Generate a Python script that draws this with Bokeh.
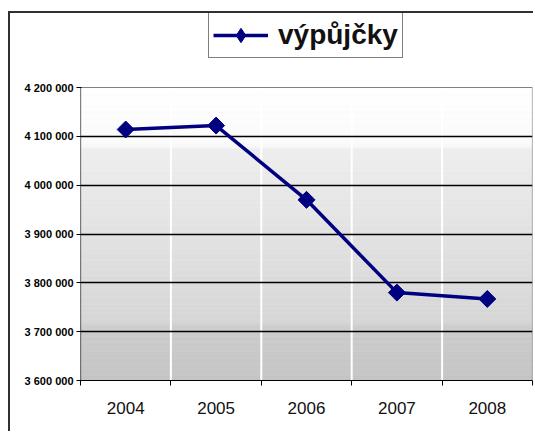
from bokeh.plotting import figure
from bokeh.models import FixedTicker, Legend, LegendItem, ColumnDataSource
from bokeh.embed import file_html
from bokeh.resources import INLINE
import numpy as np

# ---- data ----
years = ["2004", "2005", "2006", "2007", "2008"]
loans = [4114000, 4122000, 3970000, 3780000, 3767000]
series_name = "výpůjčky"
y_ticks = [3600000, 3700000, 3800000, 3900000, 4000000, 4100000, 4200000]
y_tick_labels = ["3 600 000", "3 700 000", "3 800 000", "3 900 000",
                 "4 000 000", "4 100 000", "4 200 000"]

n = len(years)
y_lo, y_hi = y_ticks[0], y_ticks[-1]
x_pos = [i + 0.5 for i in range(n)]

# frame spans from the top of the chart (legend area) down to the x axis
FRAME_TOP_PX, PLOT_TOP_PX, AXIS_PX = 13, 87, 380
y_end = y_hi + (PLOT_TOP_PX - FRAME_TOP_PX) * (y_hi - y_lo) / (AXIS_PX - PLOT_TOP_PX)

p = figure(width=525, height=420, output_backend="svg", toolbar_location=None,
           x_range=(0, n), y_range=(y_lo, y_end),
           min_border_left=70, min_border_right=3, min_border_top=0,
           min_border_bottom=53)
p.margin = (11, 0, 0, 8)
p.styles = {"border-left": "2px solid #303030", "border-top": "2px solid #303030"}
p.background_fill_color = "white"
p.border_fill_color = "white"
p.outline_line_color = None

# background gradient of the plot area (decorative)
stops_v = [3600000, 3710000, 3720000, 4075000, 4080000, 4200000]
stops_c = [196, 204, 214, 238, 250, 255]
edges = np.linspace(y_lo, y_hi, 121)
bots, tops, cols = [], [], []
for a, b in zip(edges[:-1], edges[1:]):
    g = int(round(np.interp((a + b) / 2, stops_v, stops_c)))
    bots.append(a); tops.append(b); cols.append("#%02x%02x%02x" % (g, g, g))
p.quad(left=0, right=n, bottom=bots, top=tops, fill_color=cols,
       line_color=cols, line_width=0.6, level="image")

# vertical white separators between categories
bounds = list(range(1, n))
p.segment(x0=bounds, x1=bounds, y0=y_lo, y1=y_hi, line_color="white",
          line_width=2, level="underlay")

# plot-area outline (top and right in grey)
p.line(x=[0, n, n], y=[y_hi, y_hi, y_lo], line_color="#808080", line_width=1.2,
       level="underlay")

# grids
p.ygrid.ticker = FixedTicker(ticks=y_ticks[:-1])
p.ygrid.grid_line_color = "black"
p.ygrid.grid_line_width = 1.5
p.ygrid.level = "underlay"
p.xgrid.grid_line_color = None

src = ColumnDataSource(dict(x=x_pos, y=loans))
ln = p.line("x", "y", source=src, line_color="#000080", line_width=3.5)
# diamonds (hidden under the main markers) give the legend its sample
mk_leg = p.scatter("x", "y", source=src, marker="diamond", size=15,
                   fill_color="#000080", line_color="#000080")
mk = p.scatter("x", "y", source=src, marker="square", angle=0.785398, size=12,
               fill_color="#000080", line_color="#000080")

# y axis line only along the plot area
p.segment(x0=[0], x1=[0], y0=[y_lo], y1=[y_hi], line_color="black", line_width=1.2)

# axes
p.xaxis.ticker = FixedTicker(ticks=x_pos, minor_ticks=list(range(n + 1)))
p.xaxis.major_label_overrides = {x: y for x, y in zip(x_pos, years)}
p.xaxis.major_tick_line_color = None
p.xaxis.major_tick_out = 0
p.xaxis.minor_tick_out = 5
p.xaxis.minor_tick_in = 0
p.xaxis.minor_tick_line_color = "black"
p.xaxis.major_label_standoff = 16
p.xaxis.major_label_text_font = "Liberation Sans"
p.xaxis.major_label_text_font_size = "17px"
p.xaxis.major_label_text_color = "#111111"
p.xaxis.axis_line_color = "black"

p.yaxis.ticker = FixedTicker(ticks=y_ticks)
p.yaxis.major_label_overrides = {v: s for v, s in zip(y_ticks, y_tick_labels)}
p.yaxis.minor_tick_line_color = None
p.yaxis.major_tick_out = 4
p.yaxis.major_tick_in = 1
p.yaxis.major_label_standoff = 3
p.yaxis.major_label_text_font = "Liberation Sans"
p.yaxis.major_label_text_font_style = "bold"
p.yaxis.major_label_text_font_size = "11px"
p.yaxis.major_label_text_color = "black"
p.yaxis.axis_line_color = None

legend = Legend(items=[LegendItem(label=series_name, renderers=[ln, mk_leg])],
                location=(128, AXIS_PX - 58), orientation="horizontal")
legend.label_text_font = "Liberation Sans"
legend.label_text_font_style = "bold"
legend.label_text_font_size = "28px"
legend.label_text_color = "#111111"
legend.glyph_width = 55
legend.glyph_height = 36
legend.label_standoff = 10
legend.padding = 4
legend.margin = 0
legend.border_line_color = "black"
legend.border_line_width = 1.5
legend.background_fill_color = "white"
legend.background_fill_alpha = 1
p.add_layout(legend, "center")

open("out.html", "w").write(file_html(p, INLINE))
